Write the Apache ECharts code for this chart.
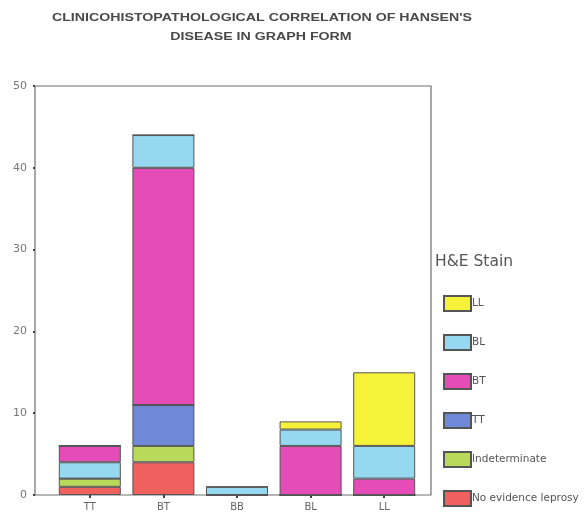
<!DOCTYPE html>
<html>
<head>
<meta charset="utf-8">
<script src="https://cdn.jsdelivr.net/npm/echarts@6/dist/echarts.min.js"></script>
<style>html,body{margin:0;padding:0;background:#fff;}#c{width:586px;height:513px;}</style>
</head>
<body>
<div id="c"></div>
<script>
// Clinical diagnosis categories (x axis)
var categories = ['TT', 'BT', 'BB', 'BL', 'LL'];
// H&E stain counts per clinical category
var noEvidence    = [1, 4, 0, 0, 0];
var indeterminate = [1, 2, 0, 0, 0];
var ttStain       = [0, 5, 0, 0, 0];
var btStain       = [2, 29, 0, 6, 2];
var blStain       = [2, 4, 1, 2, 4];
var llStain       = [0, 0, 0, 1, 9];
// In the TT column the BL segment is drawn below the BT segment
var blBelowBT     = [true, false, false, false, false];
var yTicks = [0, 10, 20, 30, 40, 50];
var titleLines = ["CLINICOHISTOPATHOLOGICAL CORRELATION OF HANSEN'S", 'DISEASE IN GRAPH FORM'];

var colors = {
  'No evidence leprosy': '#f0605e',
  'Indeterminate': '#b8d95a',
  'TT': '#6e89d8',
  'BT': '#e54cb8',
  'BL': '#95d8ef',
  'LL': '#f6f23a'
};

function bar(name, data) {
  return {
    name: name, type: 'bar', stack: 'all', xAxisIndex: 1, yAxisIndex: 1,
    barWidth: 62, data: data,
    itemStyle: { color: colors[name], borderColor: '#555', borderWidth: 1 },
    emphasis: { disabled: true }
  };
}
var blLow = blStain.map(function (v, i) { return blBelowBT[i] ? v : 0; });
var blHigh = blStain.map(function (v, i) { return blBelowBT[i] ? 0 : v; });

var chart = echarts.init(document.getElementById('c'), null, { renderer: 'canvas' });
chart.setOption({
  animation: false,
  graphic: [
    { type: 'text', x: 262, y: 12, scaleX: 1.29, silent: true,
      style: { text: titleLines[0], textAlign: 'center', textVerticalAlign: 'top',
               font: 'bold 11px "Liberation Sans"', fill: '#4a4a4a' } },
    { type: 'text', x: 261, y: 31, scaleX: 1.29, silent: true,
      style: { text: titleLines[1], textAlign: 'center', textVerticalAlign: 'top',
               font: 'bold 11px "Liberation Sans"', fill: '#4a4a4a' } }
  ],
  title: [
    { text: 'H&E Stain', left: 435, top: 254, padding: 0,
      textStyle: { fontFamily: 'DejaVu Sans', fontWeight: 'normal', fontSize: 15.5, color: '#555' } }
  ],
  legend: {
    orient: 'vertical', left: 443, top: 295, padding: 0,
    itemWidth: 27, itemHeight: 15, itemGap: 22, icon: 'rect',
    data: ['LL', 'BL', 'BT', 'TT', 'Indeterminate', 'No evidence leprosy'],
    textStyle: { fontFamily: 'DejaVu Sans', fontSize: 10.5, color: '#555', padding: [0, 0, 0, -4] },
    selectedMode: false
  },
  grid: [
    { left: 35, top: 86, width: 396, height: 409, show: true, borderColor: '#707070', borderWidth: 1.2, backgroundColor: 'transparent' },
    { left: 53, top: 86, width: 368, height: 409 }
  ],
  xAxis: [
    { type: 'value', gridIndex: 0, min: 0, max: 1, show: false },
    { type: 'category', gridIndex: 1, data: categories,
      axisLine: { show: false },
      axisTick: { show: true, alignWithLabel: true, length: 3, lineStyle: { color: '#444', width: 2 } },
      axisLabel: { margin: 7, fontFamily: 'DejaVu Sans', fontSize: 10, color: '#666' } }
  ],
  yAxis: [
    { type: 'value', gridIndex: 0, min: yTicks[0], max: yTicks[yTicks.length - 1], interval: 10,
      axisLine: { show: false },
      axisTick: { show: true, length: 2, lineStyle: { color: '#444', width: 2 } },
      splitLine: { show: false },
      axisLabel: { margin: 8, fontFamily: 'DejaVu Sans', fontSize: 11, color: '#777' } },
    { type: 'value', gridIndex: 1, min: 0, max: 50, show: false }
  ],
  series: [
    bar('No evidence leprosy', noEvidence),
    bar('Indeterminate', indeterminate),
    bar('TT', ttStain),
    bar('BL', blLow),
    bar('BT', btStain),
    bar('BL', blHigh),
    bar('LL', llStain)
  ]
});
</script>
</body>
</html>
